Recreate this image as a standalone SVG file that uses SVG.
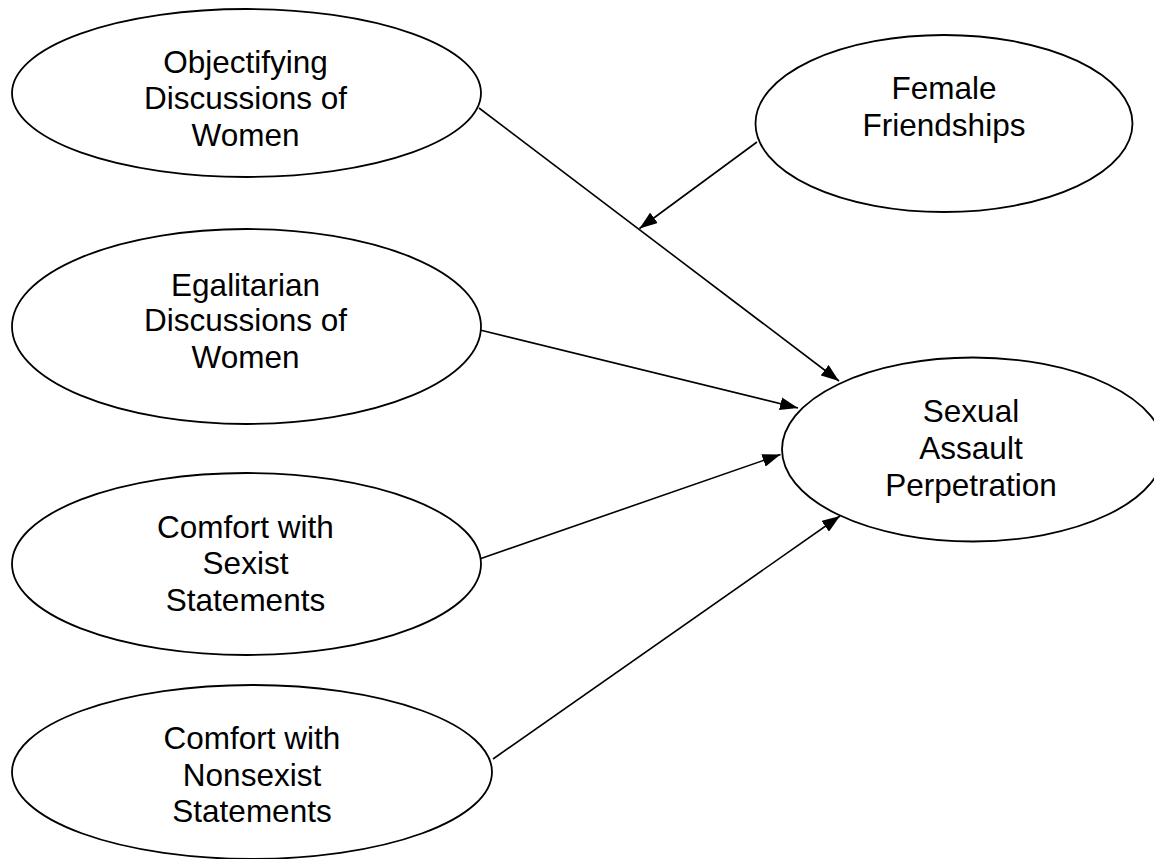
<svg xmlns="http://www.w3.org/2000/svg" width="1154" height="859" viewBox="0 0 1154 859">
<style>
.node ellipse{fill:#fff;stroke:#000;stroke-width:1.8}
.node text{font-family:"Liberation Sans",Arial,sans-serif;font-size:31.5px;fill:#000;text-anchor:middle}
.edge{stroke:#000;stroke-width:1.6;fill:none;marker-end:url(#arr)}
</style>
<defs>
<marker id="arr" markerUnits="userSpaceOnUse" markerWidth="19" markerHeight="13" refX="18" refY="6.5" orient="auto">
<path d="M0,0 L18,6.5 L0,13 z" fill="#000"/>
</marker>
</defs>
<rect width="1154" height="859" fill="#fff"/>
<g id="connectors">
<line class="edge" x1="479" y1="108" x2="839" y2="381"/>
<line class="edge" x1="757" y1="142" x2="639.5" y2="228.5"/>
<line class="edge" x1="480" y1="330" x2="798" y2="408"/>
<line class="edge" x1="479.5" y1="559" x2="780.5" y2="454.5"/>
<line class="edge" x1="493" y1="759" x2="840" y2="516"/>
</g>
<g id="objectifying" class="node">
<ellipse cx="246.5" cy="93" rx="234.5" ry="84"/>
<text x="245.5" y="72.5">Objectifying</text>
<text x="245.5" y="108.5">Discussions of</text>
<text x="245.5" y="145.5">Women</text>
</g>
<g id="female" class="node">
<ellipse cx="944" cy="123.5" rx="188.5" ry="88.5"/>
<text x="944" y="99">Female</text>
<text x="944" y="136">Friendships</text>
</g>
<g id="egalitarian" class="node">
<ellipse cx="246.5" cy="326.5" rx="234.5" ry="97.5"/>
<text x="245.5" y="295.5">Egalitarian</text>
<text x="245.5" y="331">Discussions of</text>
<text x="245.5" y="367.5">Women</text>
</g>
<g id="sexist" class="node">
<ellipse cx="246.5" cy="564" rx="234.5" ry="91"/>
<text x="245.5" y="537.5">Comfort with</text>
<text x="245.5" y="574">Sexist</text>
<text x="245.5" y="611">Statements</text>
</g>
<g id="nonsexist" class="node">
<ellipse cx="252" cy="772" rx="240" ry="87"/>
<text x="252" y="748.5">Comfort with</text>
<text x="252" y="785.5">Nonsexist</text>
<text x="252" y="822">Statements</text>
</g>
<g id="assault" class="node">
<ellipse cx="973" cy="449.5" rx="191" ry="92"/>
<text x="971" y="421.5">Sexual</text>
<text x="971" y="459">Assault</text>
<text x="971" y="495.5">Perpetration</text>
</g>
</svg>
